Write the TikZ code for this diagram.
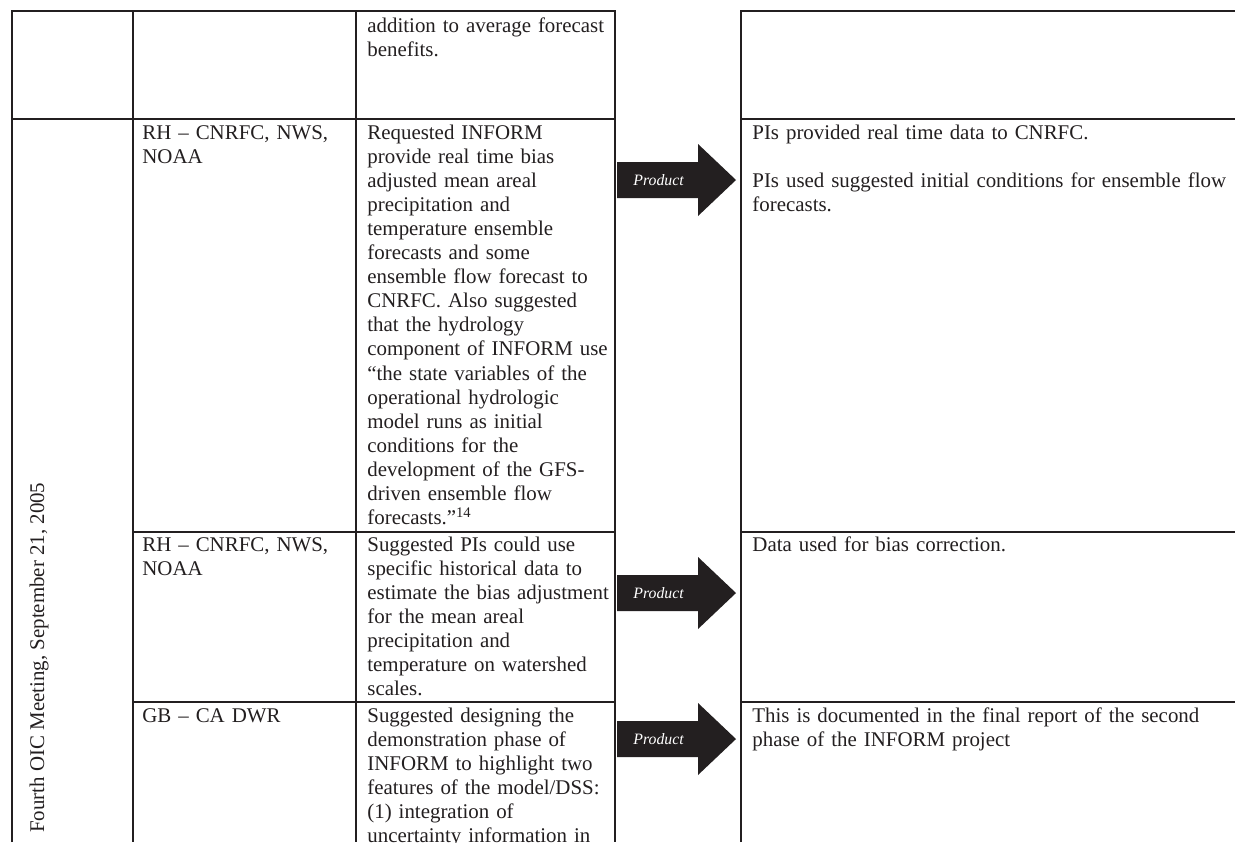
\documentclass[tikz,border=0pt]{standalone}
\usepackage{fontspec}
\setmainfont{Liberation Serif}
\definecolor{ink}{HTML}{231F20}
\begin{document}
\begin{tikzpicture}[x=0.5pt,y=-0.5pt,
  rule/.style={draw=ink, line width=0.65pt},
  cell/.style={anchor=base west, inner sep=0pt, align=left, text width=280pt,
    text=ink, font=\fontsize{10.45pt}{12.05pt}\selectfont},
  arrowbody/.style={fill=ink},
  arrowlabel/.style={anchor=west, inner sep=0pt, text=white,
    font=\fontsize{7.9pt}{9pt}\selectfont\itshape}]
\clip (0,0) rectangle (1235,842);
\fill[white] (0,0) rectangle (1235,842);

% left table: grid
\draw[rule] (12,842) -- (12,11) -- (615,11) -- (615,842);
\draw[rule] (133,11) -- (133,842);
\draw[rule] (356,11) -- (356,842);
\draw[rule] (12,119) -- (615,119);
\draw[rule] (133,532) -- (615,532);
\draw[rule] (133,702) -- (615,702);

% right table: grid (open on the right)
\draw[rule] (741,842) -- (741,11) -- (1235,11);
\draw[rule] (741,119) -- (1235,119);
\draw[rule] (741,532) -- (1235,532);
\draw[rule] (741,702) -- (1235,702);

% meeting label, set vertically
\node[anchor=base west, inner sep=0pt, rotate=90, text=ink,
  font=\fontsize{10.45pt}{12.05pt}\selectfont] (meeting) at (44,833)
  {Fourth OIC Meeting, September 21, 2005};

% row 1
\node[cell] (r1c3) at (367,32) {addition to average forecast\\benefits.};

% row 2
\node[cell] (r2c2) at (142,139) {RH -- CNRFC, NWS,\\NOAA};
\node[cell] (r2c3) at (367,139) {Requested INFORM\\provide real time bias\\adjusted mean areal\\precipitation and\\temperature ensemble\\forecasts and some\\ensemble flow forecast to\\CNRFC. Also suggested\\that the hydrology\\component of INFORM use\\``the state variables of the\\operational hydrologic\\model runs as initial\\conditions for the\\development of the GFS-\\driven ensemble flow\\forecasts.''\textsuperscript{14}};
\node[cell] (r2c4) at (752,139) {PIs provided real time data to CNRFC.\\[12.05pt]PIs used suggested initial conditions for ensemble flow\\forecasts.};

% row 3
\node[cell] (r3c2) at (142,551) {RH -- CNRFC, NWS,\\NOAA};
\node[cell] (r3c3) at (367,551) {Suggested PIs could use\\specific historical data to\\estimate the bias adjustment\\for the mean areal\\precipitation and\\temperature on watershed\\scales.};
\node[cell] (r3c4) at (752,551) {Data used for bias correction.};

% row 4
\node[cell] (r4c2) at (142,722) {GB -- CA DWR};
\node[cell] (r4c3) at (367,722) {Suggested designing the\\demonstration phase of\\INFORM to highlight two\\features of the model/DSS:\\(1) integration of\\uncertainty information in};
\node[cell] (r4c4) at (752,722) {This is documented in the final report of the second\\phase of the INFORM project};

% block arrows between the two tables
\fill[arrowbody] (617,162) -- (698,162) -- (698,144) -- (736,180) -- (698,216) -- (698,198) -- (617,198) -- cycle;
\node[arrowlabel] (p1) at (633,180) {Product};
\fill[arrowbody] (617,575) -- (698,575) -- (698,557) -- (736,593) -- (698,629) -- (698,611) -- (617,611) -- cycle;
\node[arrowlabel] (p2) at (633,593) {Product};
\fill[arrowbody] (617,721) -- (698,721) -- (698,703) -- (736,739) -- (698,775) -- (698,757) -- (617,757) -- cycle;
\node[arrowlabel] (p3) at (633,739) {Product};
\end{tikzpicture}
\end{document}
